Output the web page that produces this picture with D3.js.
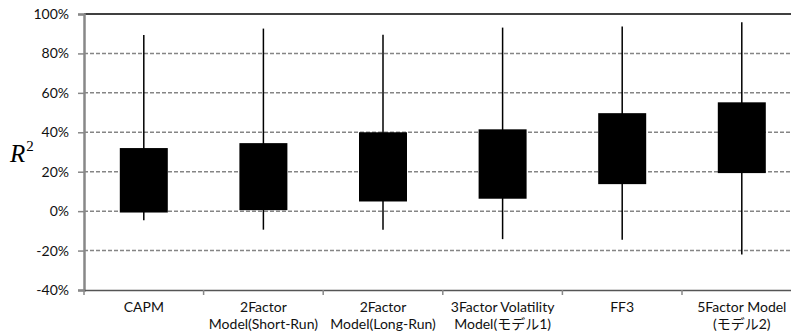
<!DOCTYPE html>
<html><head><meta charset="utf-8">
<script src="https://cdn.jsdelivr.net/npm/d3@7"></script>
<style>
body{margin:0;background:#fff;}
svg text{font-family:Lato,"Noto Sans CJK JP",sans-serif;}
</style></head>
<body><svg id="c" width="791" height="336"></svg>
<script>
const categories = ["CAPM","2Factor\nModel(Short-Run)","2Factor\nModel(Long-Run)","3Factor Volatility\nModel(モデル1)","FF3","5Factor Model\n(モデル2)"];
const whiskerHigh = [0.893, 0.926, 0.895, 0.931, 0.936, 0.958];
const boxTop      = [0.320, 0.345, 0.400, 0.415, 0.497, 0.552];
const boxBottom   = [-0.007, 0.005, 0.049, 0.063, 0.137, 0.193];
const whiskerLow  = [-0.046, -0.094, -0.094, -0.142, -0.145, -0.220];
const yTicks = [-0.4,-0.2,0,0.2,0.4,0.6,0.8,1.0];

const svg = d3.select("#c");
const mLeft = 84, mTop = 14, mBottom = 290, bandW = 119.6;
const x = d3.scaleBand().domain(categories).range([mLeft, mLeft + bandW*categories.length]).padding(0);
const y = d3.scaleLinear().domain([-0.4, 1.0]).range([mBottom, mTop]);

// gridlines
svg.append("g").selectAll("line").data(yTicks.filter(t => t > -0.4 && t < 1.0)).join("line")
  .attr("x1", mLeft).attr("x2", 791).attr("y1", d => y(d)).attr("y2", d => y(d))
  .attr("stroke", "#858585").attr("stroke-width", 1.5).attr("stroke-dasharray", "4,2");
// top border
svg.append("line").attr("x1", mLeft).attr("x2", 791).attr("y1", y(1)).attr("y2", y(1))
  .attr("stroke", "#000").attr("stroke-width", 1.5);

// y axis
const yAxis = svg.append("g").attr("transform", `translate(${mLeft},0)`)
  .call(d3.axisLeft(y).tickValues(yTicks).tickFormat(d => Math.round(d*100) + "%").tickSize(6).tickPadding(9));
yAxis.select(".domain").attr("stroke", "#888").attr("stroke-width", 2.5);
yAxis.selectAll(".tick line").attr("stroke", "#888").attr("stroke-width", 1.5);
yAxis.selectAll("text").attr("font-size", 14).attr("fill", "#111")
  .style("font-family", 'Lato,sans-serif');

// x axis
const xAxis = svg.append("g").attr("transform", `translate(0,${mBottom})`)
  .call(d3.axisBottom(x).tickSize(0).tickFormat(""));
xAxis.select(".domain").attr("stroke", "#555").attr("stroke-width", 1.5);
svg.append("g").selectAll("line").data(categories).join("line")
  .attr("x1", d => x(d)).attr("x2", d => x(d)).attr("y1", mBottom).attr("y2", mBottom + 5)
  .attr("stroke", "#888").attr("stroke-width", 1.5);

// category labels (one text element per line)
const labelLines = [];
categories.forEach(c => c.split("\n").forEach((s,i) => labelLines.push({c, s, i})));
svg.append("g").selectAll("text").data(labelLines).join("text")
  .attr("text-anchor", "middle").attr("font-size", 14).attr("fill", "#111")
  .attr("x", d => x(d.c) + x.bandwidth()/2).attr("y", d => 312 + d.i*16.9)
  .text(d => d.s);

// whiskers and boxes
const cx = i => x(categories[i]) + x.bandwidth()/2;
const g = svg.append("g");
g.selectAll("line.w").data(categories).join("line").attr("class","w")
  .attr("x1", (d,i) => cx(i)).attr("x2", (d,i) => cx(i))
  .attr("y1", (d,i) => y(whiskerHigh[i])).attr("y2", (d,i) => y(whiskerLow[i]))
  .attr("stroke", "#000").attr("stroke-width", 1.5);
const bw = 48;
g.selectAll("rect").data(categories).join("rect")
  .attr("x", (d,i) => cx(i) - bw/2).attr("width", bw)
  .attr("y", (d,i) => y(boxTop[i])).attr("height", (d,i) => y(boxBottom[i]) - y(boxTop[i]))
  .attr("fill", "#000");

// axis title R^2
const rt = svg.append("text").attr("x", 10).attr("y", 162)
  .style("font-family", '"Liberation Serif","Times New Roman",serif').attr("font-size", 25);
rt.append("tspan").attr("font-style", "italic").text("R");
rt.append("tspan").attr("font-size", 15).attr("dx", 1).attr("dy", -11).text("2");
</script></body></html>
